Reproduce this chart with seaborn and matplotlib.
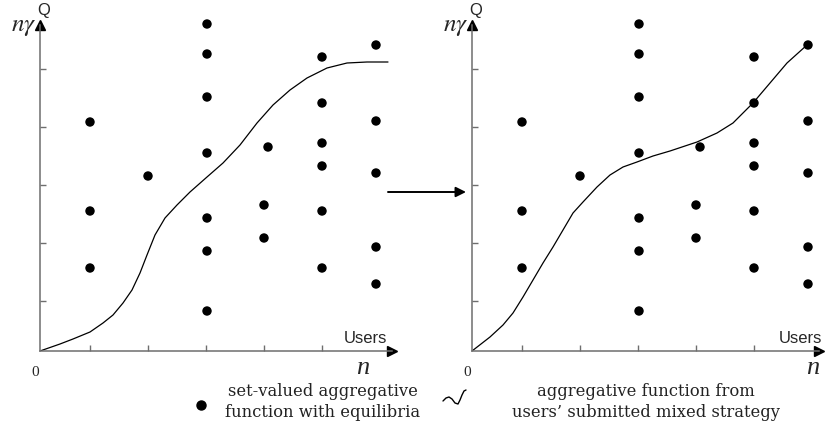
import numpy as np
import matplotlib
matplotlib.use("Agg")
import matplotlib.pyplot as plt
import seaborn as sns
from matplotlib.lines import Line2D

# equilibrium points (x, height) in picture units, origin at the axes corner
dot_x = [50, 50, 50, 108,
         167, 167, 167, 167, 167, 167, 167,
         228, 224, 224,
         282, 282, 282, 282, 282, 282,
         336, 336, 336, 336, 336]
dot_y = [229, 140, 83, 175,
         327, 297, 254, 198, 133, 100, 40,
         204, 146, 113,
         294, 248, 208, 185, 140, 83,
         306, 230, 178, 104, 67]

# left panel: aggregative function from mixed strategy (before)
left_x = [0, 20, 33, 50, 63, 73, 83, 92, 100, 107, 115, 125, 137, 150, 167,
          183, 200, 217, 233, 250, 267, 287, 307, 327, 348]
left_y = [0, 7, 12, 19, 28, 36, 48, 61, 78, 96, 116, 133, 146, 159, 174,
          188, 206, 228, 246, 261, 273, 283, 288, 289, 289]

# right panel: (after)
right_x = [0, 18, 31, 41, 51, 61, 71, 81, 91, 101, 111, 125, 138, 151, 165,
           181, 198, 225, 245, 261, 281, 298, 315, 335]
right_y = [0, 14, 26, 38, 54, 71, 88, 104, 121, 138, 149, 164, 176, 184, 189,
           195, 200, 209, 218, 228, 248, 268, 288, 306]

ticks = [50, 108, 166, 224, 282]

legend_dot = "set-valued aggregative\nfunction with equilibria"
legend_curve = "aggregative function from\nusers\u2019 submitted mixed strategy"

W, H = 825, 423
sns.set_style("white")
plt.rcParams['font.family'] = ['DejaVu Serif']

fig = plt.figure(figsize=(W / 100, H / 100), dpi=100)


def fx(x):
    return x / W


def fy(y):
    return 1 - y / H


axis_col = '#6e6e6e'


def panel(ox, oy, width, height, cx, cy):
    ax = fig.add_axes([fx(ox), fy(oy), width / W, height / H])
    ax.set_xlim(0, width)
    ax.set_ylim(0, height)
    sns.scatterplot(x=dot_x, y=dot_y, color='black', s=46, edgecolor='none',
                    clip_on=False, ax=ax, zorder=3)
    sns.lineplot(x=cx, y=cy, sort=False, estimator=None, color='black',
                 lw=0.9, ax=ax, zorder=2)
    ax.lines[-1].set_solid_joinstyle('round')
    for s in ['top', 'right']:
        ax.spines[s].set_visible(False)
    for s in ['left', 'bottom']:
        ax.spines[s].set_color(axis_col)
        ax.spines[s].set_linewidth(1.1)
    ax.spines['bottom'].set_bounds(0, width - 5)
    ax.spines['left'].set_bounds(0, height - 5)
    ax.set_xticks(ticks)
    ax.set_yticks(ticks)
    ax.tick_params(direction='in', length=4, width=1, color=axis_col,
                   bottom=True, left=True,
                   labelbottom=False, labelleft=False)
    ax.plot(width - 5, 0, '>', color='black', ms=7, clip_on=False)
    ax.plot(0, height - 5, '^', color='black', ms=7, clip_on=False)
    ax.set_xlabel('')
    ax.set_ylabel('')
    return ax


ax1 = panel(40, 351, 357, 331, left_x, left_y)
ax2 = panel(472, 351, 352, 331, right_x, right_y)

for ox in [40, 472]:
    fig.text(fx(ox - 4), fy(27), r'$n\gamma$', ha='right', va='center',
             fontsize=18, family='Liberation Serif', style='italic',
             math_fontfamily='stix')
    fig.text(fx(ox + 4), fy(11), 'Q', ha='center', va='center',
             fontsize=12, family='Liberation Sans')
    fig.text(fx(ox - 5), fy(372), '0', ha='center', va='center',
             fontsize=11, family='Liberation Serif')

for right_edge, n_x in [(387, 363), (822, 813)]:
    fig.text(fx(right_edge), fy(338), 'Users', ha='right', va='center',
             fontsize=12, family='Liberation Sans')
    fig.text(fx(n_x), fy(368), 'n', ha='center', va='center',
             fontsize=19, family='Liberation Serif', style='italic')

# arrow between the two panels
ax1.annotate('', xy=(fx(466), fy(192)), xytext=(fx(388), fy(192)),
             xycoords='figure fraction', textcoords='figure fraction',
             arrowprops=dict(arrowstyle='-|>', color='black', lw=1.4,
                             mutation_scale=15, shrinkA=0, shrinkB=0))

# legend
fig.add_artist(Line2D([fx(201)], [fy(405)], marker='o', ms=6.5,
                      color='black', transform=fig.transFigure))
fig.text(fx(323), fy(402), legend_dot, ha='center', va='center',
         fontsize=11.8, color='#222222', linespacing=1.35,
         multialignment='center')
sq_x = [443, 446, 449, 452, 455, 458, 460, 462, 464, 466]
sq_y = [401, 398, 397, 399, 403, 404, 400, 395, 391, 390]
fig.add_artist(Line2D([fx(v) for v in sq_x], [fy(v) for v in sq_y],
                      color='black', lw=1.0, transform=fig.transFigure,
                      solid_joinstyle='round', solid_capstyle='round'))
fig.text(fx(646), fy(402), legend_curve, ha='center', va='center',
         fontsize=11.8, color='#222222', linespacing=1.35,
         multialignment='center')

fig.savefig('out.png', dpi=100)
